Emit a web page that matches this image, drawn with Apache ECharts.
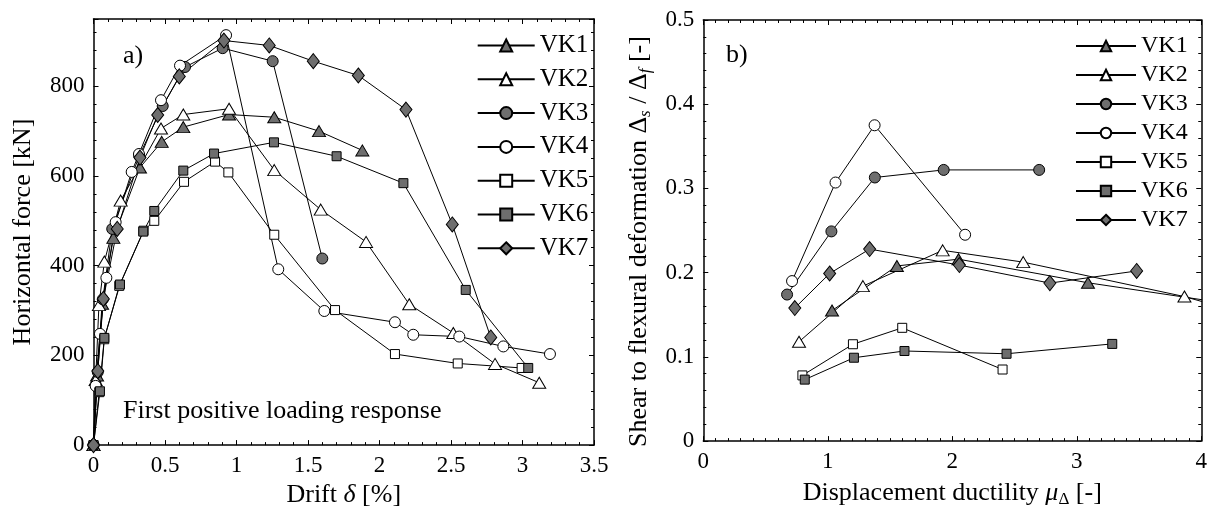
<!DOCTYPE html>
<html>
<head>
<meta charset="utf-8">
<script src="https://cdn.jsdelivr.net/npm/echarts@6/dist/echarts.min.js"></script>
<style>
  html, body { margin: 0; padding: 0; background: #fff; }
  #chart { width: 1210px; height: 513px; }
</style>
</head>
<body>
<div id="chart"></div>
<script>
// specimen names (legend order)
const specimens = ["VK1", "VK2", "VK3", "VK4", "VK5", "VK6", "VK7"];

// a) drift [%] vs horizontal force [kN], first positive loading
const forceVK1 = [[0, 0], [0.025, 155], [0.06, 315], [0.139, 462], [0.325, 619], [0.477, 676], [0.628, 709], [0.948, 737], [1.264, 731], [1.577, 700], [1.88, 657]];
const forceVK2 = [[0, 0], [0.015, 145], [0.038, 312], [0.076, 409], [0.19, 545], [0.472, 706], [0.628, 737], [0.948, 750], [1.264, 613], [1.589, 525], [1.906, 453], [2.208, 314], [2.516, 250], [2.808, 181], [3.117, 139]];
const forceVK3 = [[0, 0], [0.03, 163], [0.065, 325], [0.131, 482], [0.32, 645], [0.484, 756], [0.64, 843], [0.903, 885], [1.253, 856], [1.6, 416]];
const forceVK4 = [[0, 0], [0.015, 132], [0.045, 248], [0.09, 373], [0.155, 497], [0.267, 609], [0.318, 649], [0.472, 769], [0.605, 846], [0.927, 914], [1.292, 392], [1.614, 299], [2.108, 274], [2.236, 246], [2.558, 242], [2.866, 220], [3.192, 203]];
const forceVK5 = [[0, 0], [0.04, 118], [0.075, 236], [0.18, 355], [0.35, 478], [0.425, 500], [0.633, 587], [0.85, 632], [0.943, 608], [1.264, 469], [1.689, 301], [2.108, 203], [2.547, 182], [2.994, 172]];
const forceVK6 = [[0, 0], [0.045, 120], [0.076, 239], [0.185, 358], [0.348, 476], [0.425, 522], [0.628, 612], [0.843, 650], [1.262, 675], [1.70, 644], [2.167, 584], [2.603, 346], [3.04, 172]];
const forceVK7 = [[0, 0], [0.03, 165], [0.069, 326], [0.166, 482], [0.325, 641], [0.449, 736], [0.6, 822], [0.912, 902], [1.229, 891], [1.537, 856], [1.852, 824], [2.185, 748], [2.509, 492], [2.778, 240]];

// b) displacement ductility vs shear / flexural deformation ratio
const ratioVK1 = [[1.034, 0.155], [1.555, 0.208], [2.05, 0.216], [3.09, 0.188], [4.5, 0.157]];
const ratioVK2 = [[0.769, 0.118], [1.282, 0.184], [1.923, 0.2265], [2.57, 0.2125], [3.865, 0.1716], [4.5, 0.145]];
const ratioVK3 = [[0.673, 0.174], [1.029, 0.249], [1.378, 0.313], [1.931, 0.322], [2.698, 0.322]];
const ratioVK4 = [[0.713, 0.19], [1.062, 0.307], [1.376, 0.375], [2.103, 0.245]];
const ratioVK5 = [[0.796, 0.078], [1.202, 0.115], [1.598, 0.1345], [2.404, 0.085]];
const ratioVK6 = [[0.815, 0.073], [1.21, 0.099], [1.616, 0.107], [2.436, 0.1037], [3.285, 0.1154]];
const ratioVK7 = [[0.735, 0.158], [1.015, 0.199], [1.336, 0.228], [2.057, 0.209], [2.784, 0.1876], [3.481, 0.202]];

const FONT = "Liberation Serif";
const GREY = "#6e6e6e";

// marker look per specimen
const markers = {
  VK1: { symbol: "triangle", size: [13, 11], fill: GREY },
  VK2: { symbol: "triangle", size: [13, 11], fill: "#fff" },
  VK3: { symbol: "circle", size: 11, fill: GREY },
  VK4: { symbol: "circle", size: 11, fill: "#fff" },
  VK5: { symbol: "rect", size: 9, fill: "#fff" },
  VK6: { symbol: "rect", size: 9, fill: GREY },
  VK7: { symbol: "diamond", size: [12, 15], fill: GREY },
};

const makeSeries = (name, data, axisIdx) => {
  const m = markers[name];
  return {
    name: name,
    type: "line",
    xAxisIndex: axisIdx,
    yAxisIndex: axisIdx,
    data: data,
    symbol: m.symbol,
    symbolSize: m.size,
    showAllSymbol: true,
    clip: true,
    animation: false,
    lineStyle: { color: "#000", width: 1 },
    itemStyle: { color: m.fill, borderColor: "#000", borderWidth: 1 },
    emphasis: { disabled: true },
  };
};

const tickStyle = () => ({
  axisLine: { show: true, onZero: false, lineStyle: { color: "#000", width: 1.5 } },
  axisTick: { show: true, inside: true, length: 5, lineStyle: { color: "#000", width: 1 } },
  splitLine: { show: false },
});

// main axis (with labels)
const mainAxis = (gridIndex, position, min, max, interval, minorSplit, extra) => Object.assign({
  type: "value",
  gridIndex: gridIndex,
  position: position,
  min: min,
  max: max,
  interval: interval,
  minorTick: { show: true, splitNumber: minorSplit, length: 3, lineStyle: { color: "#000", width: 1 } },
  axisLabel: { color: "#000", fontFamily: FONT, fontSize: 23, margin: 9 },
  nameLocation: "middle",
  nameTextStyle: { color: "#000", fontFamily: FONT, fontSize: 26 },
}, tickStyle(), extra || {});

// mirrored axis on the opposite side (ticks only)
const mirrorAxis = (gridIndex, position, min, max, interval, minorSplit) => Object.assign({
  type: "value",
  gridIndex: gridIndex,
  position: position,
  min: min,
  max: max,
  interval: interval,
  minorTick: { show: true, splitNumber: minorSplit, length: 3, lineStyle: { color: "#000", width: 1 } },
  axisLabel: { show: false },
}, tickStyle());

const textTitle = (text, left, top) => ({
  text: text,
  left: left,
  top: top,
  padding: 0,
  textStyle: { color: "#000", fontFamily: FONT, fontSize: 26, fontWeight: "normal" },
});

const chart = echarts.init(document.getElementById("chart"), null, { renderer: "canvas" });

const option = {
  backgroundColor: "#fff",
  animation: false,
  title: [
    textTitle("a)", 123, 43),
    textTitle("b)", 726, 42),
    textTitle("First positive loading response", 123, 398),
  ],
  grid: [
    { left: 93.5, top: 19, width: 500.5, height: 428.7 },
    { left: 703.3, top: 20, width: 499.4, height: 427.7 },
  ],
  xAxis: [
    mainAxis(0, "bottom", 0, 3.5, 0.5, 5, {
      name: "Drift {i|δ} [%]",
      nameGap: 29,
      nameTextStyle: {
        color: "#000", fontFamily: FONT, fontSize: 26,
        rich: { i: { fontFamily: FONT, fontSize: 26, fontStyle: "italic", color: "#000" } },
      },
    }),
    mirrorAxis(0, "top", 0, 3.5, 0.5, 5),
    mainAxis(1, "bottom", 0, 4, 1, 10, {
      name: "Displacement ductility {i|μ}{sub|Δ} [-]",
      nameGap: 29,
      nameTextStyle: {
        color: "#000", fontFamily: FONT, fontSize: 26, lineHeight: 30,
        rich: {
          i: { fontFamily: FONT, fontSize: 26, fontStyle: "italic", color: "#000", lineHeight: 30 },
          sub: { fontFamily: FONT, fontSize: 17, color: "#000", verticalAlign: "bottom", lineHeight: 22 },
        },
      },
    }),
    mirrorAxis(1, "top", 0, 4, 1, 10),
  ],
  yAxis: [
    mainAxis(0, "left", 0, 950, 200, 5, {
      name: "Horizontal force [kN]",
      nameGap: 57,
      axisLabel: {
        color: "#000", fontFamily: FONT, fontSize: 23, margin: 9,
        formatter: (v) => (v % 200 === 0 ? String(v) : ""),
      },
    }),
    mirrorAxis(0, "right", 0, 950, 200, 5),
    mainAxis(1, "left", 0, 0.5, 0.1, 5, {
      name: "Shear to flexural deformation Δ{sub|s} / Δ{sub|f} [-]",
      nameGap: 49,
      nameTextStyle: {
        color: "#000", fontFamily: FONT, fontSize: 26, lineHeight: 30,
        padding: [0, 22, 0, 0],
        rich: {
          sub: { fontFamily: FONT, fontSize: 17, fontStyle: "italic", color: "#000", verticalAlign: "bottom", lineHeight: 22 },
        },
      },
    }),
    mirrorAxis(1, "right", 0, 0.5, 0.1, 5),
  ],
  legend: [
    {
      data: specimens,
      orient: "vertical",
      left: 471.7,
      top: 28,
      itemWidth: 57,
      itemHeight: 15,
      itemGap: 8.8,
      selectedMode: false,
      textStyle: { color: "#000", fontFamily: FONT, fontSize: 25 },
    },
    {
      data: specimens,
      orient: "vertical",
      left: 1070,
      top: 29,
      itemWidth: 60,
      itemHeight: 13,
      itemGap: 5,
      selectedMode: false,
      textStyle: { color: "#000", fontFamily: FONT, fontSize: 24 },
    },
  ],
  series: [
    makeSeries("VK1", forceVK1, 0),
    makeSeries("VK2", forceVK2, 0),
    makeSeries("VK3", forceVK3, 0),
    makeSeries("VK4", forceVK4, 0),
    makeSeries("VK5", forceVK5, 0),
    makeSeries("VK6", forceVK6, 0),
    makeSeries("VK7", forceVK7, 0),
    makeSeries("VK1", ratioVK1, 2),
    makeSeries("VK2", ratioVK2, 2),
    makeSeries("VK3", ratioVK3, 2),
    makeSeries("VK4", ratioVK4, 2),
    makeSeries("VK5", ratioVK5, 2),
    makeSeries("VK6", ratioVK6, 2),
    makeSeries("VK7", ratioVK7, 2),
  ],
};

chart.setOption(option);
</script>
</body>
</html>
